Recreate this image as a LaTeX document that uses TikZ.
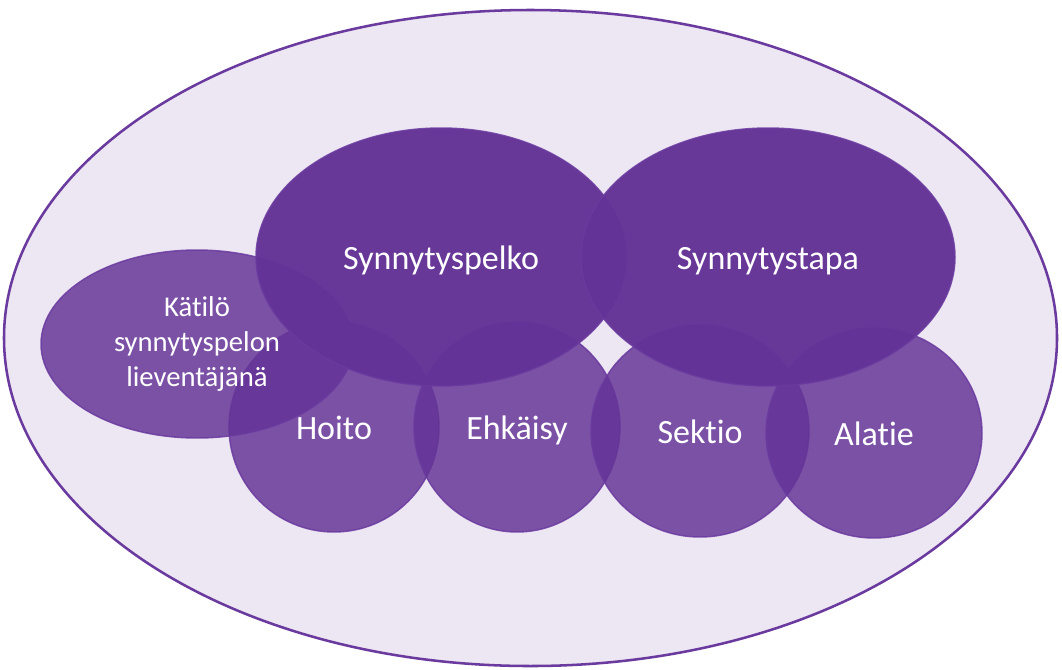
\documentclass[tikz,border=0pt]{standalone}
\usepackage{fontspec}
\setmainfont{Carlito}[Ligatures=NoCommon]
\definecolor{deep}{HTML}{643397}
\definecolor{rim}{HTML}{6A3A9F}
\definecolor{haze}{HTML}{EDE6F3}
\usetikzlibrary{shapes.geometric}
\tikzset{
  frame/.style={ellipse,draw=rim,line width=1.9pt,fill=haze,inner sep=0pt},
  blob/.style={ellipse,draw=rim,draw opacity=0.85,line width=1.1pt,fill=deep,fill opacity=0.83,
               text=white,text opacity=1,inner sep=0pt,align=center,font=\fontsize{25.5}{30}\selectfont},
  oneline/.style={text height=23pt,text depth=5pt},
  bigblob/.style={blob,oneline,fill opacity=0.97},
  smallfont/.style={font=\fontsize{21.5}{26}\selectfont}
}
\begin{document}
\begin{tikzpicture}[x=0.75pt,y=-0.75pt]
    \useasboundingbox (0,0) rectangle (1062,669);
    \node[frame,minimum width=789.75pt,minimum height=492pt] (frame) at (530.5,338) {};
    % lower row
    \foreach \px/\py/\dx/\dy/\n/\txt in {334/427/210/210/hoito/Hoito,517/427/206/210/ehk/Ehkäisy,
                                           700/431/218/212/sek/Sektio,874/433/216/210/ala/Alatie}{
      \node[blob,oneline,minimum width=\dx*0.75pt,minimum height=\dy*0.75pt] (\n) at (\px,\py) {\txt};
    }
    \node[blob,smallfont,minimum width=234pt,minimum height=141pt] (kat) at (197,344)
         {Kätilö\\synnytyspelon\\lieventäjänä};
    % upper row
    \node[bigblob,minimum width=277.5pt,minimum height=193.5pt] (pelko) at (441,257) {Synnytyspelko};
    \node[bigblob,minimum width=280.5pt,minimum height=193.5pt] (tapa) at (768,257) {Synnytystapa};
\end{tikzpicture}
\end{document}
